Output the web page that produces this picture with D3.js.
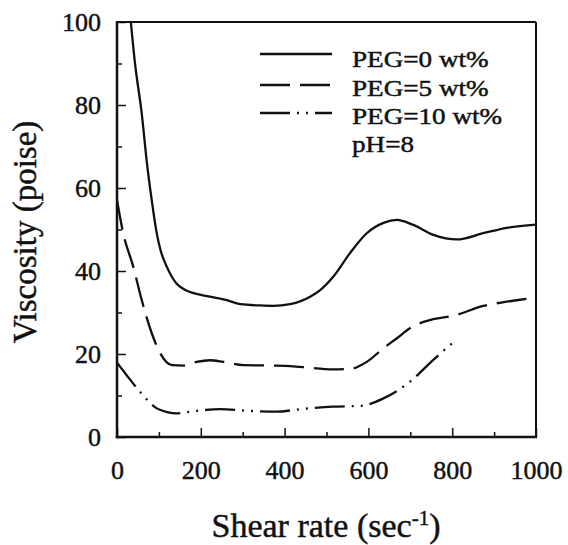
<!DOCTYPE html>
<html>
<head>
<meta charset="utf-8">
<script src="https://cdn.jsdelivr.net/npm/d3@7/dist/d3.min.js"></script>
<style>
  html, body { margin: 0; padding: 0; background: #fff; }
  svg { display: block; }
  text { font-family: "Liberation Serif", "Times New Roman", serif; fill: #111; stroke: #111; stroke-width: 0.45px; }
</style>
</head>
<body>
<svg id="chart" width="568" height="545"></svg>
<script>
// ---- data ----
const seriesNames = ["PEG=0 wt%", "PEG=5 wt%", "PEG=10 wt%"];
const noteText = "pH=8";

const shearRate0 = [33, 43, 59, 72, 83, 95, 104, 119, 142, 160, 198, 222, 262, 294, 340, 373, 413, 440, 461, 485, 516, 556, 596, 636, 668, 707, 755, 811, 874, 930, 1000];
const viscosity0 = [100, 90, 78, 65.5, 57, 49, 45, 41, 37, 35.6, 34.3, 33.8, 33, 32, 31.7, 31.6, 32, 32.8, 33.8, 35.4, 38.6, 44.3, 49.1, 51.6, 52.3, 51.1, 48.7, 47.6, 49.1, 50.4, 51.2];

const shearRate5 = [0, 15, 39, 59, 83, 103, 131, 158, 190, 222, 254, 302, 381, 437, 516, 556, 596, 636, 668, 699, 755, 803, 874, 930, 1000];
const viscosity5 = [57.1, 49, 41, 33, 25, 20.2, 17.3, 17.2, 18.1, 18.5, 18.1, 17.3, 17.2, 16.9, 16.3, 16.4, 18.1, 21.4, 23.8, 26.2, 28.4, 29.2, 31.6, 32.6, 33.6];

const shearRate10 = [0, 23, 55, 95, 120, 142, 190, 246, 317, 381, 437, 516, 580, 636, 699, 755, 800];
const viscosity10 = [17.9, 14.9, 10.9, 6.9, 6.0, 5.7, 6.3, 6.7, 6.3, 6.1, 6.7, 7.3, 7.5, 9.3, 13.3, 18.6, 22.6];

const xTicks = [0, 200, 400, 600, 800, 1000];
const xMinorTicks = [100, 300, 500, 700, 900];
const yTicks = [0, 20, 40, 60, 80, 100];
const yMinorTicks = [10, 30, 50, 70, 90];

const xTitle = "Shear rate (sec";
const xTitleSup = "-1";
const yTitle = "Viscosity (poise)";

// ---- layout ----
const svg = d3.select("#chart");
const pL = 117, pT = 22, pR = 536, pB = 437;
const FONT = "'Liberation Serif', 'Times New Roman', serif";

const x = d3.scaleLinear().domain([0, 1000]).range([pL, pR]);
const y = d3.scaleLinear().domain([0, 100]).range([pB, pT]);

const dashes = [null, "30,10", "30,7,2,7,2,7"];

// clip
svg.append("clipPath").attr("id", "plotclip")
  .append("rect").attr("x", pL).attr("y", pT).attr("width", pR - pL).attr("height", pB - pT);

// curves
const series = [
  shearRate0.map((v, i) => [v, viscosity0[i]]),
  shearRate5.map((v, i) => [v, viscosity5[i]]),
  shearRate10.map((v, i) => [v, viscosity10[i]])
];
const line = d3.line().x(d => x(d[0])).y(d => y(d[1])).curve(d3.curveMonotoneX);
const gLines = svg.append("g").attr("clip-path", "url(#plotclip)");
series.forEach((s, i) => {
  gLines.append("path")
    .attr("d", line(s))
    .attr("fill", "none")
    .attr("stroke", "#111")
    .attr("stroke-width", 2.3)
    .attr("stroke-dasharray", dashes[i]);
});

// axes (ticks inward)
function styleAxis(g) {
  g.attr("font-family", FONT);
  g.select(".domain").remove();
  g.selectAll(".tick line").attr("stroke", "#111").attr("stroke-width", 1.5);
  g.selectAll(".tick text")
    .attr("font-family", FONT)
    .attr("font-size", 26).attr("fill", "#111");
}
svg.append("g").attr("transform", `translate(${pL},0)`)
  .call(d3.axisLeft(y).tickValues(yTicks).tickSize(-9).tickPadding(16).tickFormat(d3.format("d")))
  .call(styleAxis);
svg.append("g").attr("transform", `translate(${pL},0)`)
  .call(d3.axisLeft(y).tickValues(yMinorTicks).tickSize(-5).tickFormat(""))
  .call(styleAxis);
svg.append("g").attr("transform", `translate(0,${pB})`)
  .call(d3.axisBottom(x).tickValues(xTicks).tickSize(-9).tickPadding(24).tickFormat(d3.format("d")))
  .call(styleAxis);
svg.append("g").attr("transform", `translate(0,${pB})`)
  .call(d3.axisBottom(x).tickValues(xMinorTicks).tickSize(-5).tickFormat(""))
  .call(styleAxis);

// frame
svg.append("line").attr("x1", pL).attr("x2", pR).attr("y1", pT).attr("y2", pT)
  .attr("stroke", "#111").attr("stroke-width", 2);
svg.append("line").attr("x1", pR).attr("x2", pR).attr("y1", pT).attr("y2", pB)
  .attr("stroke", "#111").attr("stroke-width", 2);
svg.append("line").attr("x1", pL).attr("x2", pL).attr("y1", pT - 1).attr("y2", pB + 1.25)
  .attr("stroke", "#111").attr("stroke-width", 2.5);
svg.append("line").attr("x1", pL - 1.25).attr("x2", pR + 1).attr("y1", pB).attr("y2", pB)
  .attr("stroke", "#111").attr("stroke-width", 2.5);

// axis titles
const xt = svg.append("text")
  .attr("x", 326).attr("y", 537)
  .attr("text-anchor", "middle")
  .attr("font-family", FONT)
  .attr("font-size", 34);
xt.append("tspan").text(xTitle);
xt.append("tspan").attr("font-size", 21).attr("dy", -12).text(xTitleSup);
xt.append("tspan").attr("dy", 12).text(")");

svg.append("text")
  .attr("transform", "translate(36,232) rotate(-90)")
  .attr("text-anchor", "middle")
  .attr("font-family", FONT)
  .attr("font-size", 33)
  .text(yTitle);

// legend
const legendBase = [67, 96, 124];
const legendLineY = [54, 85, 113];
seriesNames.forEach((name, i) => {
  svg.append("line")
    .attr("x1", 260).attr("x2", 332)
    .attr("y1", legendLineY[i]).attr("y2", legendLineY[i])
    .attr("stroke", "#111").attr("stroke-width", 2.3)
    .attr("stroke-dasharray", dashes[i]);
  svg.append("text")
    .attr("transform", `translate(352,${legendBase[i]}) scale(1.18,1)`)
    .attr("font-family", FONT)
    .attr("font-size", 23)
    .text(name);
});
svg.append("text")
  .attr("transform", `translate(352,152) scale(1.18,1)`)
  .attr("font-family", FONT)
  .attr("font-size", 23)
  .text(noteText);
</script>
</body>
</html>
